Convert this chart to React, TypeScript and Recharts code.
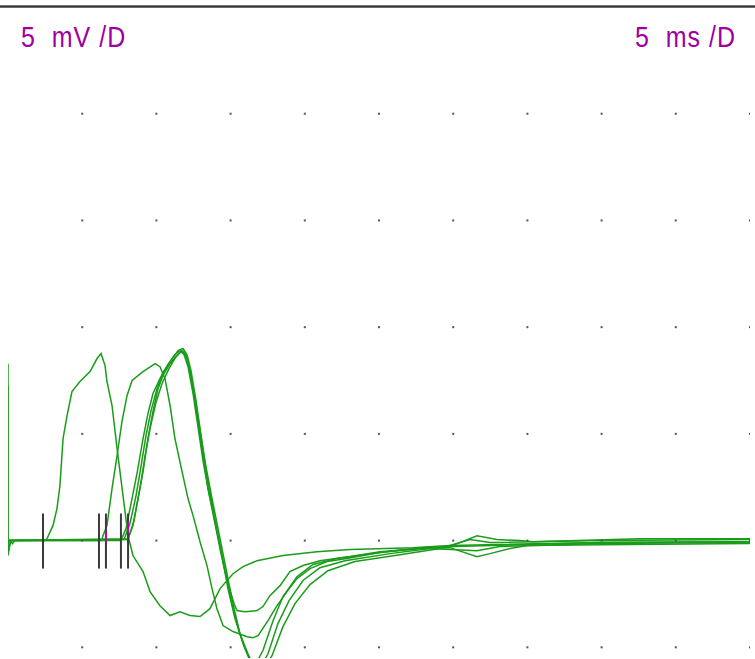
import React from 'react';
import { ComposedChart, Line, Scatter, XAxis, YAxis, ReferenceLine } from 'recharts';

// time in ms, amplitude in mV; 5 ms/D horizontally, 5 mV/D vertically
const xTicks = [5, 10, 15, 20, 25, 30, 35, 40, 45, 50];
const yTicks = [-5, 0, 5, 10, 15, 20];

const traceA: [number, number][] = [
  [0, 8.29], [0, -0.7], [0.15, 0], [0.3, -0.15], [0.45, 0], [2.5, 0], [2.63, 0.09], [3.03, 0.7],
  [3.3, 1.5], [3.5, 2.58], [3.71, 4.78], [3.98, 5.86], [4.31, 6.98], [4.85, 7.45], [5.53, 7.92],
  [6.0, 8.53], [6.27, 8.76], [6.54, 8.2], [6.67, 7.45], [7.01, 6.33], [7.35, 4.31], [7.75, 2.11],
  [8.09, 0.23], [8.42, -0.7], [9.1, -1.45], [9.57, -2.39], [10.24, -3.05], [10.92, -3.51],
  [11.59, -3.33], [12.26, -3.51], [12.94, -3.56], [13.61, -3.19], [14.29, -2.25], [15.16, -1.55],
  [15.84, -1.22], [16.78, -0.94], [18.53, -0.7], [20.82, -0.52], [23.05, -0.42], [27.29, -0.33],
  [29.78, -0.23], [39.89, -0.09], [50, -0.05],
];

const traceB: [number, number][] = [
  [0, 7.26], [0, -0.6], [0.2, 0], [6.3, 0], [6.4, 0.23], [6.67, 0.7], [7.01, 2.44], [7.35, 3.98],
  [7.68, 5.58], [8.02, 6.79], [8.36, 7.5], [9.1, 7.92], [9.91, 8.29], [10.24, 8.15], [10.58, 7.59],
  [10.92, 6.33], [11.25, 4.78], [11.73, 3.23], [12.13, 1.97], [12.47, 1.17], [12.94, -0.05],
  [13.41, -1.17], [13.75, -2.25], [14.08, -3.19], [14.49, -3.98], [15.16, -4.26], [16.11, -4.5],
  [16.51, -4.55], [16.85, -4.45], [17.52, -3.75], [18.13, -3.05], [18.8, -2.39], [19.47, -1.78],
  [20.35, -1.31], [21.5, -0.98], [22.84, -0.84], [25.07, -0.56], [27.76, -0.33], [29.78, -0.28],
  [31.6, 0.23], [32.95, 0.05], [34.5, 0], [35.38, -0.05], [42.59, 0.09], [50, 0.09],
];

const traceC: [number, number][] = [
  [0, 0], [7.61, 0], [7.95, 0.56], [8.29, 1.73], [8.69, 3.14], [9.1, 4.78], [9.43, 5.95],
  [9.77, 6.89], [10.24, 7.59], [10.78, 8.25], [11.25, 8.72], [11.59, 8.9], [11.86, 8.72],
  [12.13, 8.15], [12.47, 6.89], [12.8, 5.34], [13.14, 3.75], [13.54, 2.2], [13.95, 0.8],
  [14.35, -0.61], [14.82, -2.02], [15.23, -2.95], [15.43, -3.28], [15.97, -3.33], [16.78, -3.28],
  [17.18, -3.09], [17.65, -2.58], [18.33, -2.11], [19.0, -1.45], [19.88, -1.17], [21.02, -0.94],
  [23.05, -0.75], [25.07, -0.52], [27.76, -0.37], [29.78, -0.33], [31.6, -0.75], [32.48, -0.61],
  [33.83, -0.37], [34.97, -0.23], [39.89, -0.19], [50, -0.14],
];

const traceD: [number, number][] = [
  [0, 0], [8.09, 0.09], [8.42, 0.7], [8.76, 1.97], [9.1, 3.23], [9.43, 4.78], [9.77, 6.05],
  [10.11, 7.12], [10.44, 7.73], [10.92, 8.29], [11.39, 8.67], [11.73, 8.9], [11.93, 8.76],
  [12.13, 8.39], [12.47, 7.12], [12.8, 5.58], [13.14, 3.98], [13.48, 2.44], [13.95, 0.89],
  [14.42, -0.7], [14.82, -2.25], [15.3, -3.66], [15.84, -4.83], [16.31, -5.62], [16.71, -5.76],
  [17.18, -5.15], [17.86, -3.75], [18.53, -2.62], [19.47, -1.69], [20.55, -1.12], [22.17, -0.84],
  [25.07, -0.56], [27.76, -0.37], [30.12, -0.28], [39.89, -0.09], [50, -0.05],
];

const traceE: [number, number][] = [
  [0, 0], [7.82, 0.05], [8.22, 0.8], [8.63, 2.11], [8.96, 3.47], [9.3, 4.92], [9.64, 6.09],
  [10.04, 7.12], [10.44, 7.87], [10.98, 8.43], [11.46, 8.9], [11.79, 9.0], [12.06, 8.72],
  [12.33, 7.97], [12.67, 6.56], [13.01, 4.92], [13.34, 3.28], [13.75, 1.73], [14.15, 0.23],
  [14.62, -1.41], [15.09, -2.95], [15.57, -4.22], [15.97, -5.06], [16.51, -5.9], [16.98, -6.0],
  [17.52, -5.3], [18.19, -3.89], [18.94, -2.81], [19.88, -1.87], [21.02, -1.27], [22.71, -0.94],
  [25.74, -0.61], [28.44, -0.37], [31.6, -0.47], [33.15, -0.28], [39.89, -0.14], [50, -0.09],
];

const traceF: [number, number][] = [
  [0, 0], [8.09, 0.05], [8.49, 0.94], [8.89, 2.44], [9.23, 3.94], [9.57, 5.25], [9.97, 6.47],
  [10.38, 7.36], [10.85, 8.06], [11.32, 8.62], [11.66, 8.86], [11.99, 8.67], [12.26, 7.97],
  [12.6, 6.65], [12.94, 5.15], [13.34, 3.47], [13.75, 1.97], [14.22, 0.33], [14.69, -1.31],
  [15.16, -2.95], [15.63, -4.36], [16.17, -5.3], [16.71, -6.09], [17.18, -6.09], [17.79, -5.39],
  [18.53, -4.03], [19.34, -2.95], [20.35, -2.06], [21.56, -1.41], [23.38, -0.98], [26.42, -0.66],
  [29.11, -0.37], [31.13, 0.05], [32.48, -0.09], [39.89, 0], [50, 0.05],
];

// latency cursors (ms)
const markerTimes = [2.36, 6.13, 6.6, 7.61, 8.09];
const markerTop = 1.27;
const markerBottom = -1.31;
const highlightMarks: [number, number, number][] = [
  [6.6, 0.47, -0.05],
  [8.09, 0.89, 0.33],
];

const traces = [traceA, traceB, traceC, traceD, traceE, traceF];
const toPoints = (arr: [number, number][]) => arr.map(([t, v]) => ({ t, v }));
const gridDots = xTicks.flatMap((t) => yTicks.map((v) => ({ t, v })));

const GREEN = '#1a9c1a';

const Dot = (props: any) => {
  const { cx, cy } = props;
  return <rect x={cx - 1} y={cy - 1} width={2} height={2} fill="#555" />;
};

const labelStyle: React.CSSProperties = {
  position: 'absolute',
  top: 23,
  fontFamily: '"Liberation Sans", Arial, sans-serif',
  fontSize: 25,
  lineHeight: 1,
  color: '#a000a0',
  whiteSpace: 'pre',
  letterSpacing: 1,
  transform: 'scaleY(1.15)',
  transformOrigin: 'top',
};

export default function App() {
  return (
    <div style={{ position: 'absolute', left: 0, top: 0, width: 755, height: 659, background: '#fff', overflow: 'hidden' }}>
      <div
        style={{
          position: 'absolute',
          left: 0,
          top: 5,
          width: 755,
          height: 3,
          background: 'linear-gradient(#999, #333, #888)',
        }}
      />
      <div style={{ ...labelStyle, left: 21 }}>5  mV /D</div>
      <div style={{ ...labelStyle, right: 19 }}>5  ms /D</div>

      <ComposedChart width={755} height={659} margin={{ top: 7, right: 5, bottom: 1, left: 8 }}>
        <XAxis dataKey="t" type="number" domain={[0, 50]} hide allowDataOverflow />
        <YAxis dataKey="v" type="number" domain={[-5.5, 25]} hide allowDataOverflow />
        <Scatter data={gridDots} dataKey="v" shape={<Dot />} isAnimationActive={false} />
        {traces.map((tr, i) => (
          <Line
            key={i}
            data={toPoints(tr)}
            dataKey="v"
            type="linear"
            stroke={GREEN}
            strokeWidth={1.5}
            dot={false}
            activeDot={false}
            isAnimationActive={false}
          />
        ))}
        {markerTimes.map((t) => (
          <ReferenceLine
            key={t}
            segment={[{ x: t, y: markerTop }, { x: t, y: markerBottom }]}
            stroke="#3a3a3a"
            strokeWidth={2}
            ifOverflow="visible"
          />
        ))}
        {highlightMarks.map(([t, top, bottom]) => (
          <ReferenceLine
            key={'h' + t}
            segment={[{ x: t, y: top }, { x: t, y: bottom }]}
            stroke="#c000c0"
            strokeWidth={2}
            ifOverflow="visible"
          />
        ))}
      </ComposedChart>
    </div>
  );
}
